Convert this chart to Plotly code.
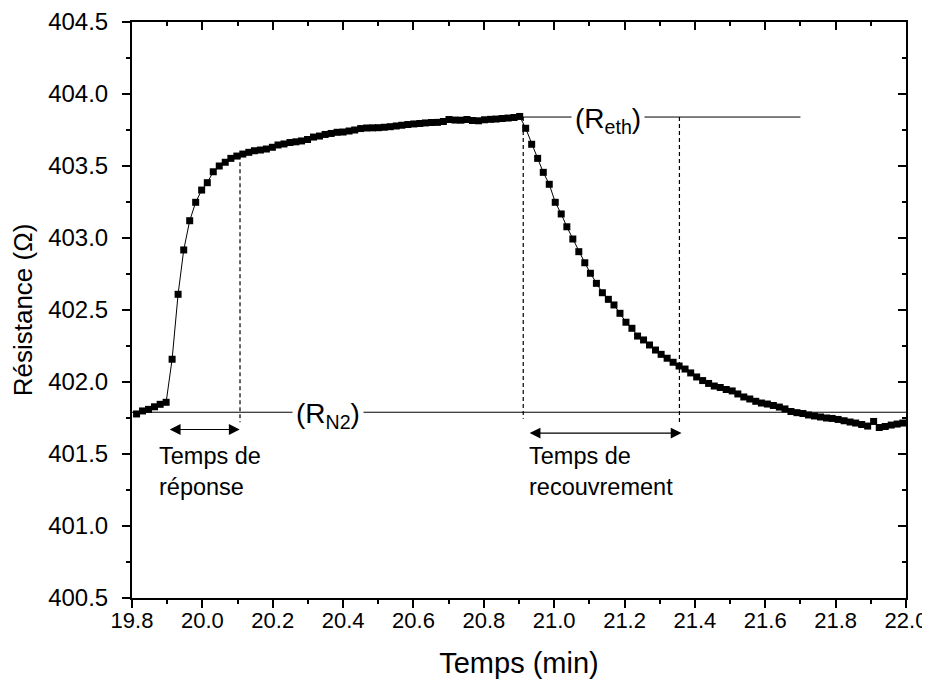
import plotly.graph_objects as go

# Time (min)
temps = [
    19.813, 19.830, 19.847, 19.864, 19.880, 19.897, 19.914, 19.931, 19.947, 19.964,
    19.981, 19.998, 20.014, 20.031, 20.048, 20.065, 20.081, 20.098, 20.115, 20.132,
    20.148, 20.165, 20.182, 20.199, 20.215, 20.232, 20.249, 20.266, 20.282, 20.299,
    20.316, 20.333, 20.349, 20.366, 20.383, 20.400, 20.417, 20.433, 20.450, 20.467,
    20.484, 20.500, 20.517, 20.534, 20.551, 20.567, 20.584, 20.601, 20.618, 20.634,
    20.651, 20.668, 20.685, 20.701, 20.718, 20.735, 20.752, 20.768, 20.785, 20.802,
    20.819, 20.835, 20.852, 20.869, 20.886, 20.902, 20.919, 20.936, 20.953, 20.969,
    20.986, 21.003, 21.020, 21.036, 21.053, 21.070, 21.087, 21.103, 21.120, 21.137,
    21.154, 21.170, 21.187, 21.204, 21.221, 21.237, 21.254, 21.271, 21.288, 21.304,
    21.321, 21.338, 21.355, 21.372, 21.388, 21.405, 21.422, 21.439, 21.455, 21.472,
    21.489, 21.506, 21.522, 21.539, 21.556, 21.573, 21.589, 21.606, 21.623, 21.640,
    21.656, 21.673, 21.690, 21.707, 21.723, 21.740, 21.757, 21.774, 21.790, 21.807,
    21.824, 21.841, 21.857, 21.874, 21.891, 21.908, 21.924, 21.941, 21.958, 21.975,
    21.991,
]

# Resistance (Ohm)
resistance = [
    401.778, 401.799, 401.810, 401.828, 401.845, 401.859, 402.158, 402.609, 402.917, 403.120,
    403.248, 403.333, 403.384, 403.460, 403.500, 403.526, 403.553, 403.569, 403.583, 403.595,
    403.606, 403.611, 403.618, 403.630, 403.646, 403.653, 403.663, 403.668, 403.674, 403.684,
    403.701, 403.708, 403.719, 403.726, 403.734, 403.736, 403.743, 403.750, 403.760, 403.764,
    403.765, 403.766, 403.769, 403.773, 403.778, 403.783, 403.788, 403.792, 403.795, 403.799,
    403.802, 403.803, 403.809, 403.823, 403.819, 403.818, 403.823, 403.816, 403.814, 403.821,
    403.824, 403.826, 403.830, 403.833, 403.837, 403.844, 403.762, 403.651, 403.553, 403.456,
    403.373, 403.248, 403.167, 403.078, 402.993, 402.905, 402.828, 402.755, 402.685, 402.620,
    402.574, 402.535, 402.477, 402.415, 402.373, 402.319, 402.292, 402.257, 402.222, 402.192,
    402.165, 402.137, 402.111, 402.090, 402.063, 402.035, 402.010, 401.990, 401.972, 401.962,
    401.948, 401.938, 401.917, 401.896, 401.882, 401.866, 401.854, 401.847, 401.837, 401.826,
    401.813, 401.795, 401.787, 401.781, 401.771, 401.764, 401.757, 401.750, 401.747, 401.740,
    401.731, 401.722, 401.715, 401.705, 401.694, 401.726, 401.684, 401.691, 401.701, 401.708,
    401.715,
]

x_range = [19.8, 22.0]
y_range = [400.5, 404.5]
x_ticks = [19.8, 20.0, 20.2, 20.4, 20.6, 20.8, 21.0, 21.2, 21.4, 21.6, 21.8, 22.0]
x_ticklabels = ["19.8", "20.0", "20.2", "20.4", "20.6", "20.8", "21.0", "21.2", "21.4", "21.6", "21.8", "22.0"]
y_ticks = [400.5, 401.0, 401.5, 402.0, 402.5, 403.0, 403.5, 404.0, 404.5]
y_ticklabels = ["400.5", "401.0", "401.5", "402.0", "402.5", "403.0", "403.5", "404.0", "404.5"]

# Reference levels and time markers
r_n2 = 401.79
r_eth = 403.84
t_rep_end = 20.107
t_rec_start, t_rec_end = 20.912, 21.356
r_eth_line_end = 21.70

FONT = "Liberation Sans, Arial, sans-serif"

fig = go.Figure()
fig.add_trace(go.Scatter(
    x=temps, y=resistance, mode="lines+markers",
    line=dict(color="black", width=1),
    marker=dict(symbol="square", size=7, color="black"),
    showlegend=False, cliponaxis=True,
))
# invisible trace for mirrored axes
fig.add_trace(go.Scatter(x=x_range, y=y_range, xaxis="x2", yaxis="y2",
                         mode="markers", marker=dict(opacity=0), showlegend=False,
                         hoverinfo="skip"))

DASH = "4px,3px"
shapes = []
shapes.append(dict(type="line", xref="x", yref="y", x0=19.8, x1=22.0, y0=r_n2, y1=r_n2,
                   line=dict(color="black", width=1)))
shapes.append(dict(type="line", xref="x", yref="y", x0=temps[65], x1=r_eth_line_end, y0=r_eth, y1=r_eth,
                   line=dict(color="black", width=1)))
shapes.append(dict(type="line", xref="x", yref="y", x0=t_rep_end, x1=t_rep_end, y0=403.575, y1=401.72,
                   line=dict(color="black", width=1.2, dash=DASH)))
shapes.append(dict(type="line", xref="x", yref="y", x0=t_rec_start, x1=t_rec_start, y0=r_eth, y1=401.745,
                   line=dict(color="black", width=1.2, dash=DASH)))
shapes.append(dict(type="line", xref="x", yref="y", x0=t_rec_end, x1=t_rec_end, y0=r_eth, y1=401.71,
                   line=dict(color="black", width=1.2, dash=DASH)))

annotations = []
annotations.append(dict(x=20.106, y=401.67, ax=19.903, ay=401.67, xref="x", yref="y", axref="x", ayref="y",
                        showarrow=True, arrowhead=2, startarrowhead=2, arrowside="end+start",
                        arrowsize=1.8, startarrowsize=1.8, arrowwidth=1.2, arrowcolor="black", text=""))
annotations.append(dict(x=21.362, y=401.645, ax=20.926, ay=401.645, xref="x", yref="y", axref="x", ayref="y",
                        showarrow=True, arrowhead=2, startarrowhead=2, arrowside="end+start",
                        arrowsize=1.8, startarrowsize=1.8, arrowwidth=1.2, arrowcolor="black", text=""))
annotations.append(dict(x=19.871, y=401.59, xref="x", yref="y", xanchor="left", yanchor="top",
                        text="Temps de<br>réponse", showarrow=False, align="left",
                        font=dict(family=FONT, size=23.5, color="black")))
annotations.append(dict(x=20.923, y=401.59, xref="x", yref="y", xanchor="left", yanchor="top",
                        text="Temps de<br>recouvrement", showarrow=False, align="left",
                        font=dict(family=FONT, size=23.5, color="black")))
annotations.append(dict(x=20.357, y=r_n2, xref="x", yref="y", xanchor="center", yanchor="middle",
                        text="(R<sub>N2</sub>)", showarrow=False, bgcolor="white", borderpad=3,
                        yshift=-3, font=dict(family=FONT, size=28, color="black")))
annotations.append(dict(x=21.153, y=r_eth, xref="x", yref="y", xanchor="center", yanchor="middle",
                        text="(R<sub>eth</sub>)", showarrow=False, bgcolor="white", borderpad=3,
                        yshift=-3, font=dict(family=FONT, size=28, color="black")))

axis_common = dict(showgrid=False, zeroline=False, linecolor="black", linewidth=2,
                   tickcolor="black", tickwidth=1.5, automargin=False)

# page body adds an 8px offset; figure sized so that the page fits the 930x682 window
fig.update_layout(
    width=922, height=674,
    margin=dict(l=124, r=24, t=14, b=84, autoexpand=False),
    plot_bgcolor="white", paper_bgcolor="white",
    font=dict(family=FONT, color="black"),
    shapes=shapes, annotations=annotations,
    xaxis=dict(**axis_common, range=x_range, showline=True, mirror=True,
               tickmode="array", tickvals=x_ticks, ticktext=x_ticklabels,
               ticks="outside", ticklen=8, ticklabelstandoff=-6,
               minor=dict(dtick=0.1, ticks="outside", ticklen=4, tickcolor="black", tickwidth=1.5),
               tickfont=dict(family=FONT, size=22),
               title=dict(text="Temps (min)", font=dict(family=FONT, size=29), standoff=20)),
    yaxis=dict(**axis_common, range=y_range, showline=True, mirror=True,
               tickmode="array", tickvals=y_ticks, ticktext=y_ticklabels,
               ticks="outside", ticklen=8, ticklabelstandoff=9,
               minor=dict(dtick=0.25, ticks="outside", ticklen=4, tickcolor="black", tickwidth=1.5),
               tickfont=dict(family=FONT, size=24),
               title=dict(text="Résistance (Ω)", font=dict(family=FONT, size=26), standoff=12)),
    xaxis2=dict(overlaying="x", side="top", range=x_range, showgrid=False, zeroline=False,
                showline=False, showticklabels=False, tickmode="array", tickvals=x_ticks,
                ticks="inside", ticklen=8, tickcolor="black", tickwidth=1.5, automargin=False,
                minor=dict(dtick=0.1, ticks="inside", ticklen=4, tickcolor="black", tickwidth=1.5)),
    yaxis2=dict(overlaying="y", side="right", range=y_range, showgrid=False, zeroline=False,
                showline=False, showticklabels=False, tickmode="array", tickvals=y_ticks,
                ticks="inside", ticklen=8, tickcolor="black", tickwidth=1.5, automargin=False,
                minor=dict(dtick=0.25, ticks="inside", ticklen=4, tickcolor="black", tickwidth=1.5)),
)

fig.write_html("out.html")
